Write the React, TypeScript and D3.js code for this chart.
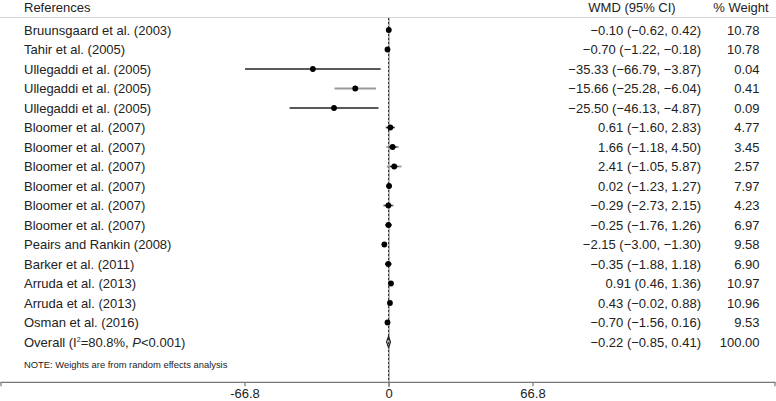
import React from "react";
import * as d3 from "d3";

const studies = [
  "Bruunsgaard et al. (2003)",
  "Tahir et al. (2005)",
  "Ullegaddi et al. (2005)",
  "Ullegaddi et al. (2005)",
  "Ullegaddi et al. (2005)",
  "Bloomer et al. (2007)",
  "Bloomer et al. (2007)",
  "Bloomer et al. (2007)",
  "Bloomer et al. (2007)",
  "Bloomer et al. (2007)",
  "Bloomer et al. (2007)",
  "Peairs and Rankin (2008)",
  "Barker et al. (2011)",
  "Arruda et al. (2013)",
  "Arruda et al. (2013)",
  "Osman et al. (2016)",
];
const wmd = [-0.10, -0.70, -35.33, -15.66, -25.50, 0.61, 1.66, 2.41, 0.02, -0.29, -0.25, -2.15, -0.35, 0.91, 0.43, -0.70];
const lower = [-0.62, -1.22, -66.79, -25.28, -46.13, -1.60, -1.18, -1.05, -1.23, -2.73, -1.76, -3.00, -1.88, 0.46, -0.02, -1.56];
const upper = [0.42, -0.18, -3.87, -6.04, -4.87, 2.83, 4.50, 5.87, 1.27, 2.15, 1.26, -1.30, 1.18, 1.36, 0.88, 0.16];
const weights = ["10.78", "10.78", "0.04", "0.41", "0.09", "4.77", "3.45", "2.57", "7.97", "4.23", "6.97", "9.58", "6.90", "10.97", "10.96", "9.53"];
const overall = { est: -0.22, lo: -0.85, hi: 0.41, weight: "100.00" };
const axisTicks = [-66.8, 0, 66.8];

const fmt = (v: number) => {
  const s = Math.abs(v).toFixed(2);
  return (v < 0 ? "\u2212" : "") + s;
};
const ciText = (e: number, l: number, h: number) => `${fmt(e)} (${fmt(l)}, ${fmt(h)})`;

export default function App() {
  const W = 776, H = 401;
  const x = d3.scaleLinear().domain([-66.8, 66.8]).range([245, 533]);
  const y0 = 30, step = 19.5;
  const rowY = (i: number) => y0 + i * step;
  const axisY = 382.3;
  const font = "Arial, 'Liberation Sans', sans-serif";
  const overallY = rowY(studies.length);
  const dx = x(overall.est);

  return (
    <svg width={W} height={H} style={{ position: "absolute", left: 0, top: 0, fontFamily: font }}>
      <rect width={W} height={H} fill="#fff" />
      {/* header */}
      <text x={24} y={12} fontSize={13} fill="#222">References</text>
      <text x={632} y={12} fontSize={13} fill="#222" textAnchor="middle">WMD (95% CI)</text>
      <text x={741} y={12} fontSize={13} fill="#222" textAnchor="middle">% Weight</text>
      <line x1={0} x2={W} y1={17.5} y2={17.5} stroke="#d4d4d4" strokeWidth={1} />

      {/* null line */}
      <line x1={x(0)} x2={x(0)} y1={18} y2={axisY + 5} stroke="#888" strokeWidth={1.2} />
      {/* overall dashed line */}
      <line x1={dx} x2={dx} y1={18} y2={axisY} stroke="#333" strokeWidth={1} strokeDasharray="2,2" />

      {studies.map((s, i) => {
        const yy = rowY(i);
        const dark = i === 2 || i === 4;
        const grey = i === 3;
        return (
          <g key={i}>
            <text x={24} y={yy + 4.5} fontSize={13} fill="#222">{s}</text>
            <line x1={x(lower[i])} x2={x(upper[i])} y1={yy} y2={yy} stroke={dark ? "#222" : "#999"} strokeWidth={dark ? 1.3 : 1.8} />
            {!dark && !grey && (
              <line x1={Math.max(x(lower[i]), x(wmd[i]) - 4)} x2={Math.min(x(upper[i]), x(wmd[i]) + 4)} y1={yy} y2={yy} stroke="#222" strokeWidth={1.2} />
            )}
            <circle cx={x(wmd[i])} cy={yy} r={2.9} fill="#000" />
            <text x={701} y={yy + 4.5} fontSize={13} fill="#222" textAnchor="end">{ciText(wmd[i], lower[i], upper[i])}</text>
            <text x={759.5} y={yy + 4.5} fontSize={13} fill="#222" textAnchor="end">{weights[i]}</text>
          </g>
        );
      })}

      {/* overall */}
      <text x={24} y={overallY + 4.5} fontSize={13} fill="#222">
        Overall (I<tspan fontSize={7} dy={-5}>2</tspan><tspan dy={5}>=80.8%, </tspan><tspan fontStyle="italic">P</tspan>&lt;0.001)
      </text>
      <polygon
        points={`${x(overall.lo) - 0.6},${overallY} ${dx},${overallY - 5.5} ${x(overall.hi) + 0.6},${overallY} ${dx},${overallY + 5.5}`}
        fill="none" stroke="#222" strokeWidth={1.2}
      />
      <text x={701} y={overallY + 4.5} fontSize={13} fill="#222" textAnchor="end">{ciText(overall.est, overall.lo, overall.hi)}</text>
      <text x={759.5} y={overallY + 4.5} fontSize={13} fill="#222" textAnchor="end">{overall.weight}</text>

      <text x={24} y={368} fontSize={9.4} fill="#222">NOTE: Weights are from random effects analysis</text>

      {/* axis */}
      <line x1={0.5} x2={W - 0.5} y1={axisY} y2={axisY} stroke="#777" strokeWidth={1.2} />
      <line x1={1} x2={1} y1={axisY} y2={axisY + 4} stroke="#777" strokeWidth={1.2} />
      <line x1={W - 1} x2={W - 1} y1={axisY} y2={axisY + 4} stroke="#777" strokeWidth={1.2} />
      {axisTicks.map((t) => (
        <g key={t}>
          <line x1={x(t)} x2={x(t)} y1={axisY} y2={axisY + 4} stroke="#777" strokeWidth={1.2} />
          <text x={x(t)} y={398} fontSize={13} fill="#222" textAnchor="middle">{t}</text>
        </g>
      ))}
    </svg>
  );
}
